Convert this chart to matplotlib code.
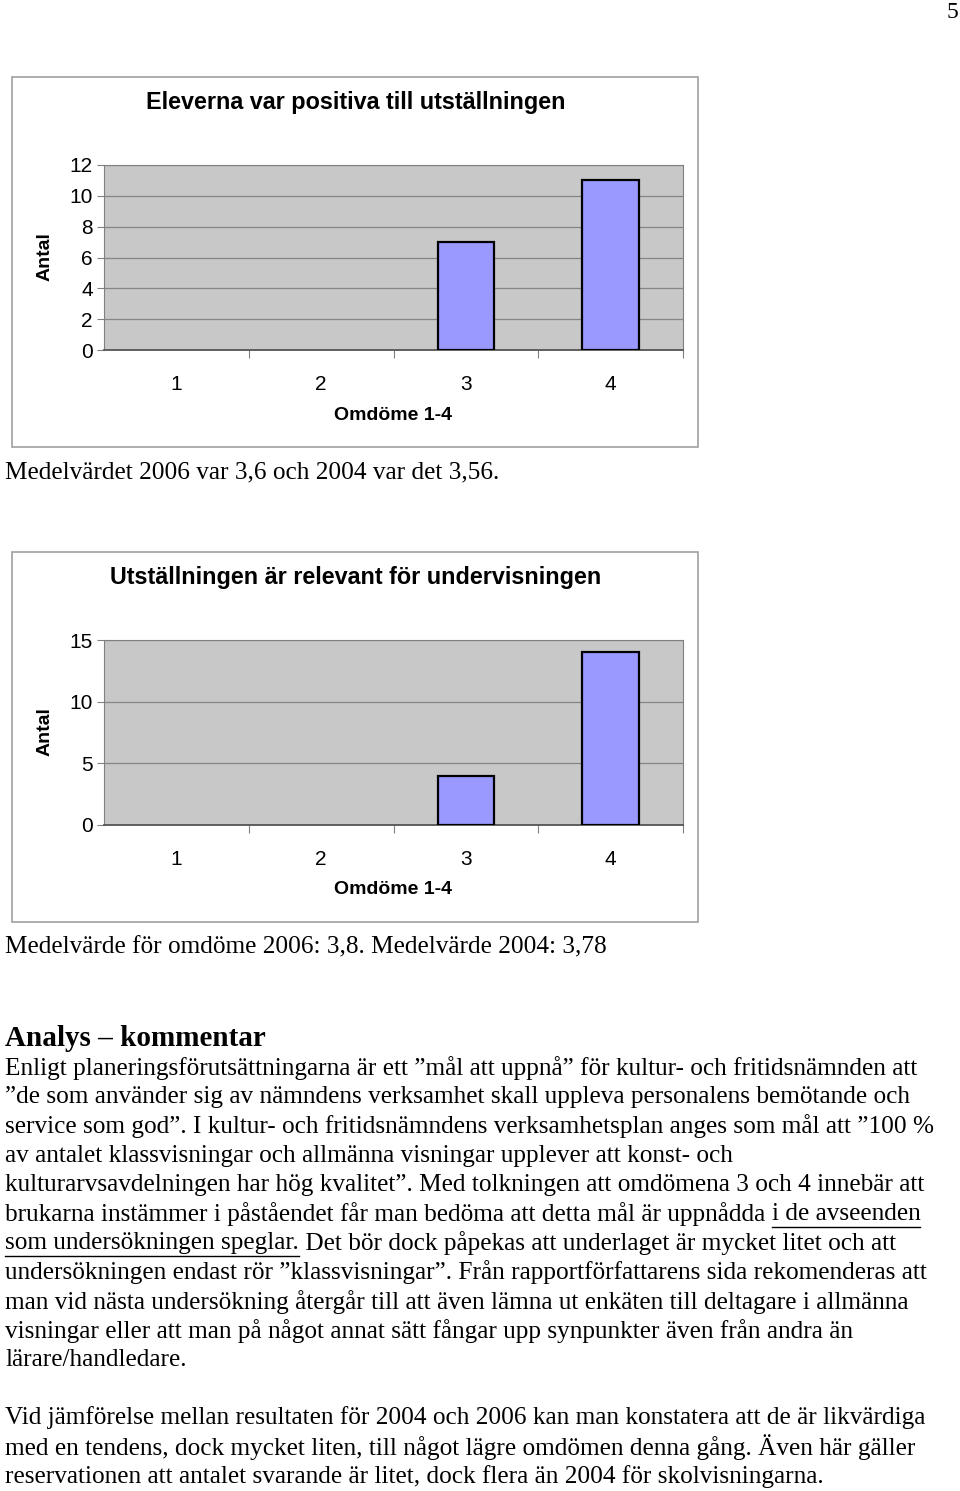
import matplotlib
matplotlib.use('Agg')
import matplotlib.pyplot as plt
from matplotlib.patches import Rectangle
from matplotlib.lines import Line2D

W, H = 960, 1491

# data
categories = [1, 2, 3, 4]
positiva = [0, 0, 7, 11]
relevant = [0, 0, 4, 14]
titles = ['Eleverna var positiva till utställningen',
          'Utställningen är relevant för undervisningen']
ylims = [12, 15]
ysteps = [2, 5]

body1 = [
    'Enligt planeringsförutsättningarna är ett ”mål att uppnå” för kultur- och fritidsnämnden att',
    '”de som använder sig av nämndens verksamhet skall uppleva personalens bemötande och',
    'service som god”. I kultur- och fritidsnämndens verksamhetsplan anges som mål att ”100 %',
    'av antalet klassvisningar och allmänna visningar upplever att konst- och',
    'kulturarvsavdelningen har hög kvalitet”. Med tolkningen att omdömena 3 och 4 innebär att',
    ['brukarna instämmer i påståendet får man bedöma att detta mål är uppnådda ', 'i de avseenden'],
    ['', 'som undersökningen speglar.', ' Det bör dock påpekas att underlaget är mycket litet och att'],
    'undersökningen endast rör ”klassvisningar”. Från rapportförfattarens sida rekomenderas att',
    'man vid nästa undersökning återgår till att även lämna ut enkäten till deltagare i allmänna',
    'visningar eller att man på något annat sätt fångar upp synpunkter även från andra än',
    'lärare/handledare.',
]
body2 = [
    'Vid jämförelse mellan resultaten för 2004 och 2006 kan man konstatera att de är likvärdiga',
    'med en tendens, dock mycket liten, till något lägre omdömen denna gång. Även här gäller',
    'reservationen att antalet svarande är litet, dock flera än 2004 för skolvisningarna.',
]


def fx(x):
    return x / W


def fy(y):
    return 1 - y / H


fig = plt.figure(figsize=(9.6, 14.91), dpi=100)
fig.patch.set_facecolor('white')
sans = 'Liberation Sans'
serif = 'Liberation Serif'

fig.text(fx(952), fy(12), '5', family=serif, fontsize=17, ha='center', va='center')


def draw_chart(top, values, title, ymax, ystep):
    # outer chart frame
    fig.patches.append(Rectangle((fx(12), fy(top + 370)), fx(686), 370 / H,
                                 transform=fig.transFigure, fill=False,
                                 edgecolor='#a0a0a0', lw=1.2))
    fig.text(fx(356), fy(top + 26), title, family=sans, fontweight='bold',
             fontsize=16.8, ha='center', va='center')
    ax = fig.add_axes([fx(104), fy(top + 273), fx(579), 185 / H])
    ax.set_facecolor('#c8c8c8')
    edges = ['black' if v > 0 else 'none' for v in values]
    ax.bar(categories, values, width=0.39, color='#9999ff', edgecolor=edges,
           linewidth=1.6, zorder=3)
    ax.set_xlim(0.5, 4.5)
    ax.set_ylim(0, ymax)
    ax.set_yticks(range(0, ymax + 1, ystep))
    ax.yaxis.grid(True, color='#858585', lw=0.9, zorder=0)
    ax.set_xticks([1.5, 2.5, 3.5, 4.5], minor=False)
    ax.set_xticklabels([])
    ax.set_xticks(categories, minor=True)
    ax.set_xticklabels([str(c) for c in categories], minor=True)
    ax.tick_params(axis='x', which='major', length=6, color='#808080', direction='out')
    ax.tick_params(axis='x', which='minor', length=0, pad=18, labelsize=15)
    ax.tick_params(axis='y', length=5, color='#808080', labelsize=15, pad=3)
    for lab in ax.get_xticklabels(minor=True) + ax.get_yticklabels():
        lab.set_family(sans)
    for s in ['top', 'right', 'left']:
        ax.spines[s].set_color('#808080')
    ax.spines['bottom'].set_color('#555555')
    ax.spines['bottom'].set_linewidth(1.3)
    ax.set_xlabel('Omdöme 1-4', family=sans, fontweight='bold', fontsize=14,
                  labelpad=9)
    fig.text(fx(45), fy(top + 180), 'Antal', family=sans, fontweight='bold',
             fontsize=14, rotation=90, ha='center', va='center')
    return ax


draw_chart(77, positiva, titles[0], ylims[0], ysteps[0])
draw_chart(552, relevant, titles[1], ylims[1], ysteps[1])

fs = 18.2
fig.text(fx(5), fy(472), 'Medelvärdet 2006 var 3,6 och 2004 var det 3,56.',
         family=serif, fontsize=fs, va='center')
fig.text(fx(5), fy(947), 'Medelvärde för omdöme 2006: 3,8. Medelvärde 2004: 3,78',
         family=serif, fontsize=fs, va='center')
fig.text(fx(5), fy(1038), 'Analys – kommentar', family=serif, fontweight='bold',
         fontsize=21, va='center')

renderer = fig.canvas.get_renderer()


def put_line(y, parts):
    if isinstance(parts, str):
        parts = [parts]
    x = 5
    for i, p in enumerate(parts):
        if not p:
            continue
        t = fig.text(fx(x), fy(y), p, family=serif, fontsize=fs, va='center')
        bb = t.get_window_extent(renderer)
        if i == 1:
            fig.lines.append(Line2D([fx(x), fx(x + bb.width)], [fy(y + 13), fy(y + 13)],
                                    transform=fig.transFigure, color='black', lw=1))
        x += bb.width


y0 = 1068
for i, line in enumerate(body1):
    put_line(y0 + i * 29.2, line)
for i, line in enumerate(body2):
    put_line(1418 + i * 29.2, line)

fig.savefig('out.png', dpi=100)
